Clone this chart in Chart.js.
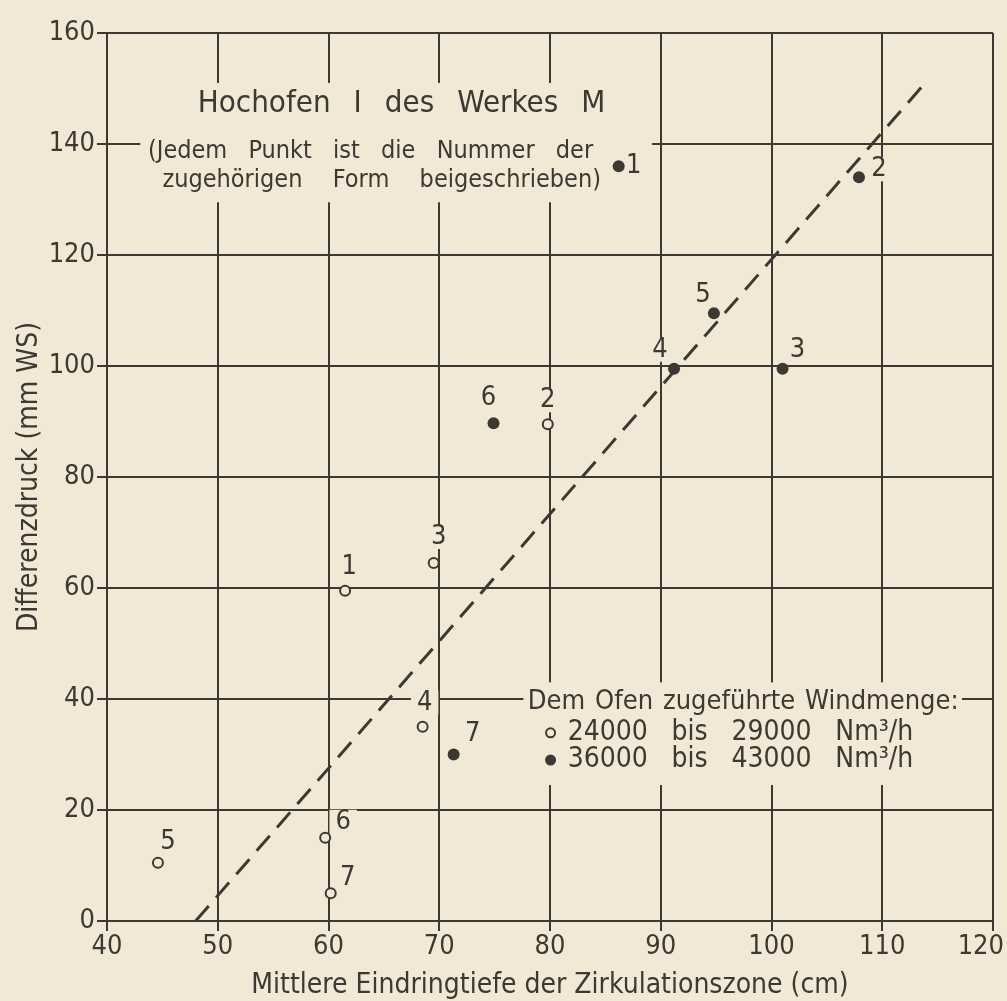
<!DOCTYPE html>
<html>
<head>
<meta charset="utf-8">
<script src="https://cdn.jsdelivr.net/npm/chart.js@4.4.1/dist/chart.umd.min.js"></script>
<style>
  html, body { margin: 0; padding: 0; background: #f1e9d6; }
  #wrap { width: 1007px; height: 1001px; position: relative; }
</style>
</head>
<body>
<div id="wrap"><canvas id="chart"></canvas></div>
<script>
const INK = "#3d3832";
const PAPER = "#f1e9d6";
const FONT = "'DejaVu Sans Condensed', 'DejaVu Sans', sans-serif";

// axes
const X_TICKS = [40, 50, 60, 70, 80, 90, 100, 110, 120];
const Y_TICKS = [0, 20, 40, 60, 80, 100, 120, 140, 160];

// 24 000 bis 29 000 Nm3/h (open circles)
const LOW_X = [61.5, 79.8, 69.5, 68.5, 44.6, 59.7, 60.2];
const LOW_Y = [59.5, 89.5, 64.5, 35, 10.5, 15, 5];
const LOW_FORM = ["1", "2", "3", "4", "5", "6", "7"];

// 36 000 bis 43 000 Nm3/h (filled dots)
const HIGH_X = [86.2, 107.9, 101, 91.2, 94.8, 74.9, 71.3];
const HIGH_Y = [136, 134, 99.5, 99.5, 109.5, 89.7, 30];
const HIGH_FORM = ["1", "2", "3", "4", "5", "6", "7"];

// dashed trend line
const TREND_X = [48, 113.7];
const TREND_Y = [0, 150.6];

const TITLE = "Hochofen I des Werkes M";
const NOTE_1 = "(Jedem Punkt ist die Nummer der";
const NOTE_2 = "zugehörigen Form beigeschrieben)";
const LEGEND_HEAD = "Dem Ofen zugeführte Windmenge:";
const LEGEND_LOW = "24000 bis 29000 Nm³/h";
const LEGEND_HIGH = "36000 bis 43000 Nm³/h";
const X_TITLE = "Mittlere Eindringtiefe der Zirkulationszone (cm)";
const Y_TITLE = "Differenzdruck (mm WS)";

// label offsets in px, next to each point
const LOW_LABEL_OFF = [[4, -24], [0, -24], [5, -26], [2, -24], [10, -21], [18, -16], [17, -15]];
const HIGH_LABEL_OFF = [[15, 0], [20, -8], [15, -19], [-14, -19], [-11, -18], [-5, -25], [19, -21]];

function pts(xs, ys) {
  return xs.map((x, i) => ({ x, y: ys[i] }));
}

// spread words between two pixel edges
function spreadText(ctx, text, left, right, y) {
  const words = text.split(" ");
  const widths = words.map((w) => ctx.measureText(w).width);
  const total = widths.reduce((a, b) => a + b, 0);
  const gap = words.length > 1 ? (right - left - total) / (words.length - 1) : 0;
  let x = left;
  ctx.textAlign = "left";
  words.forEach((w, i) => {
    ctx.fillText(w, x, y);
    x += widths[i] + gap;
  });
}

const notesPlugin = {
  id: "notes",
  beforeDatasetsDraw(chart) {
    const { ctx } = chart;
    const xs = chart.scales.x;
    const ys = chart.scales.y;
    const px = (v) => xs.getPixelForValue(v);
    const py = (v) => ys.getPixelForValue(v);

    ctx.save();
    // paper behind the text blocks breaks the grid
    ctx.fillStyle = PAPER;
    ctx.fillRect(px(43), py(151), px(89.2) - px(43), py(129.5) - py(151));
    ctx.fillRect(px(77.6), py(43), px(117.2) - px(77.6), py(24.5) - py(43));

    ctx.font = "27px " + FONT;
    const labelMask = (xv, yv, off, txt) => {
      const w = ctx.measureText(txt).width + 12;
      ctx.fillRect(px(xv) + off[0] - w / 2, py(yv) + off[1] - 12, w, 24);
    };
    LOW_FORM.forEach((t, i) => labelMask(LOW_X[i], LOW_Y[i], LOW_LABEL_OFF[i], t));
    HIGH_FORM.forEach((t, i) => labelMask(HIGH_X[i], HIGH_Y[i], HIGH_LABEL_OFF[i], t));

    ctx.fillStyle = INK;
    ctx.textBaseline = "middle";
    ctx.font = "31px " + FONT;
    spreadText(ctx, TITLE, px(48.2), px(85), py(147.2));
    ctx.font = "25px " + FONT;
    spreadText(ctx, NOTE_1, px(43.7), px(83.9), py(138.6));
    spreadText(ctx, NOTE_2, px(45), px(84.6), py(133.5));

    ctx.font = "27px " + FONT;
    spreadText(ctx, LEGEND_HEAD, px(78), px(116.9), py(39.4));
    ctx.font = "28px " + FONT;
    spreadText(ctx, LEGEND_LOW, px(81.6), px(112.8), py(33.9));
    spreadText(ctx, LEGEND_HIGH, px(81.6), px(112.8), py(29));

    // legend markers
    ctx.lineWidth = 2;
    ctx.strokeStyle = INK;
    ctx.beginPath();
    ctx.arc(px(80.05), py(33.9), 4.5, 0, Math.PI * 2);
    ctx.fillStyle = PAPER;
    ctx.fill();
    ctx.stroke();
    ctx.beginPath();
    ctx.arc(px(80.05), py(29), 5.5, 0, Math.PI * 2);
    ctx.fillStyle = INK;
    ctx.fill();
    ctx.restore();
  },
  afterDatasetsDraw(chart) {
    const { ctx } = chart;
    const xs = chart.scales.x;
    const ys = chart.scales.y;
    ctx.save();
    ctx.fillStyle = INK;
    ctx.font = "27px " + FONT;
    ctx.textAlign = "center";
    ctx.textBaseline = "middle";
    LOW_FORM.forEach((t, i) => {
      ctx.fillText(t, xs.getPixelForValue(LOW_X[i]) + LOW_LABEL_OFF[i][0], ys.getPixelForValue(LOW_Y[i]) + LOW_LABEL_OFF[i][1]);
    });
    HIGH_FORM.forEach((t, i) => {
      ctx.fillText(t, xs.getPixelForValue(HIGH_X[i]) + HIGH_LABEL_OFF[i][0], ys.getPixelForValue(HIGH_Y[i]) + HIGH_LABEL_OFF[i][1]);
    });

    // x tick labels, last one kept inside the canvas
    const ty = xs.top + 26;
    X_TICKS.forEach((v) => {
      const txt = String(v);
      const w = ctx.measureText(txt).width;
      let cx = xs.getPixelForValue(v);
      cx = Math.min(cx, chart.width - 3 - w / 2);
      ctx.fillText(txt, cx, ty);
    });
    ctx.restore();
  },
};

const gridOpts = { color: INK, lineWidth: 2, tickLength: 10, drawTicks: true };

new Chart(document.getElementById("chart"), {
  type: "scatter",
  data: {
    datasets: [
      {
        label: "24000 bis 29000",
        data: pts(LOW_X, LOW_Y),
        pointRadius: 5,
        pointBorderWidth: 2,
        pointBorderColor: INK,
        pointBackgroundColor: PAPER,
      },
      {
        label: "36000 bis 43000",
        data: pts(HIGH_X, HIGH_Y),
        pointRadius: 6,
        pointBorderWidth: 0,
        pointBackgroundColor: INK,
      },
      {
        type: "line",
        label: "Trend",
        data: pts(TREND_X, TREND_Y),
        borderColor: INK,
        borderWidth: 3,
        borderDash: [20, 11],
        pointRadius: 0,
        fill: false,
      },
    ],
  },
  options: {
    responsive: true,
    maintainAspectRatio: false,
    animation: false,
    layout: { padding: { top: 33, right: 14, left: 0, bottom: 0 } },
    plugins: { legend: { display: false }, tooltip: { enabled: false } },
    scales: {
      x: {
        type: "linear",
        min: 40,
        max: 120,
        afterBuildTicks: (s) => { s.ticks = X_TICKS.map((v) => ({ value: v })); },
        afterFit: (s) => { s.height = 80; s.paddingLeft = 0; s.paddingRight = 0; },
        grid: gridOpts,
        border: { color: INK, width: 2 },
        ticks: { display: false },
        title: {
          display: true,
          text: X_TITLE,
          color: INK,
          font: { family: FONT, size: 28, lineHeight: 1.1 },
          padding: { top: 0, bottom: 0 },
        },
      },
      y: {
        type: "linear",
        min: 0,
        max: 160,
        afterBuildTicks: (s) => { s.ticks = Y_TICKS.map((v) => ({ value: v })); },
        afterFit: (s) => { s.width = 107; s.paddingTop = 0; s.paddingBottom = 0; },
        grid: gridOpts,
        border: { color: INK, width: 2 },
        ticks: { color: INK, font: { family: FONT, size: 27 }, padding: 2 },
        title: {
          display: true,
          text: Y_TITLE,
          color: INK,
          font: { family: FONT, size: 28, lineHeight: 1.1 },
          padding: { top: 14, bottom: 0 },
        },
      },
    },
  },
  plugins: [notesPlugin],
});
</script>
</body>
</html>
